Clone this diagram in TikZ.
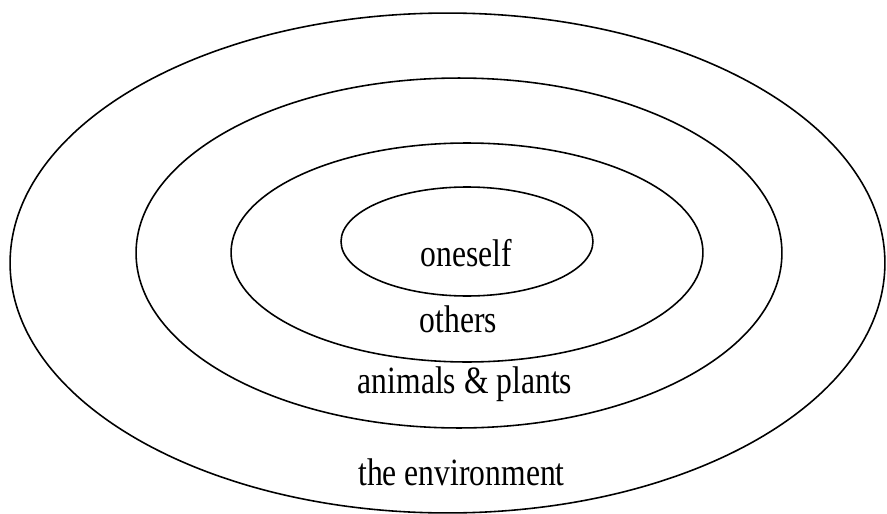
\documentclass[tikz,border=0pt]{standalone}
\usepackage{fontspec}
\setmainfont{Liberation Serif}
\usetikzlibrary{shapes.geometric}
\begin{document}
\begin{tikzpicture}[x=0.02cm, y=-0.02cm,
  ring/.style={ellipse, draw, line width=0.9pt, inner sep=0pt, outer sep=0pt},
  word/.style={anchor=base, font=\fontsize{18}{20}\selectfont, yscale=1.22, transform shape}]
\useasboundingbox (0,0) rectangle (887,514);
\node (env)[ring, minimum width=17.5cm, minimum height=10cm] at (447.5, 263) {};
\node (anim)[ring, minimum width=12.92cm, minimum height=7cm] at (459, 253) {};
\node (oth)[ring, minimum width=9.44cm, minimum height=4.38cm] at (467, 252.5) {};
\node (self)[ring, minimum width=5.04cm, minimum height=2.18cm] at (467, 241.5) {};
\node (tself)[word] at (466.5, 266) {oneself};
\node (toth)[word] at (458.5, 332) {others};
\node (tanim)[word] at (465, 393) {animals \& plants};
\node (tenv)[word] at (461.5, 485) {the environment};
\end{tikzpicture}
\end{document}
